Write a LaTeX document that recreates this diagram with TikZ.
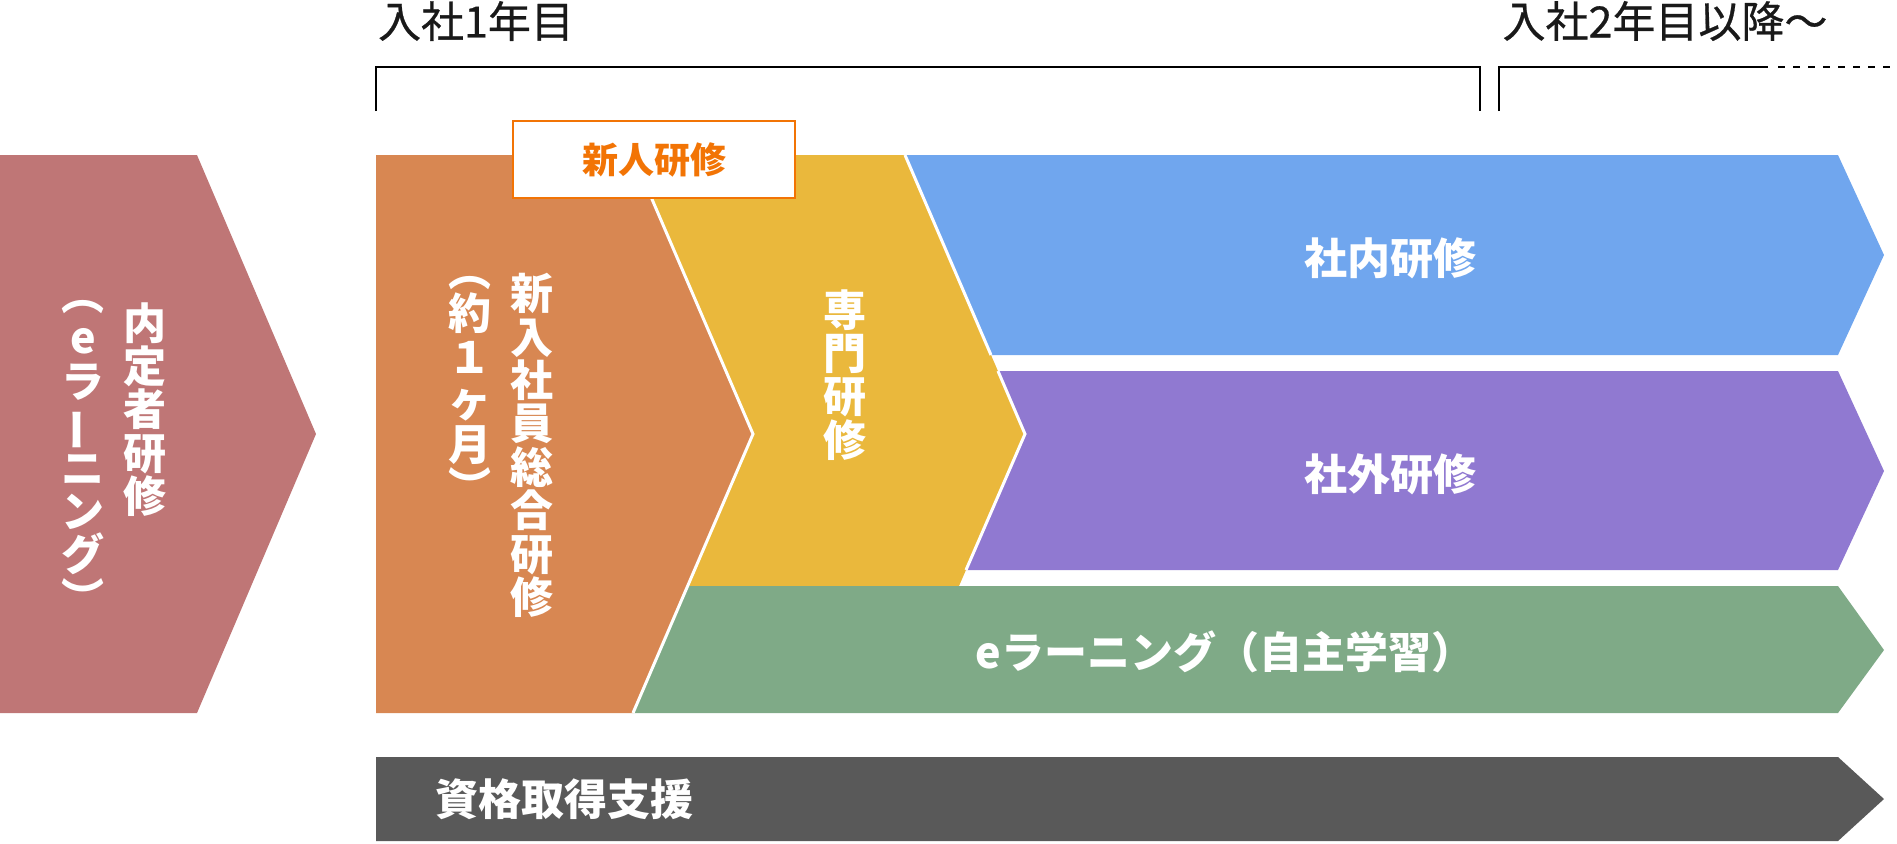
\documentclass[tikz,border=0pt]{standalone}
\usepackage{fontspec}
\setmainfont{Noto Sans CJK JP}
\newfontfamily\jpmed{Noto Sans CJK JP}[FakeBold=0.6]
\usetikzlibrary{calc}
\definecolor{pinkcol}{HTML}{BF7676}
\definecolor{orgcol}{HTML}{D88752}
\definecolor{yelcol}{HTML}{EAB83C}
\definecolor{bluecol}{HTML}{70A6EE}
\definecolor{purcol}{HTML}{9079D1}
\definecolor{grncol}{HTML}{7FAA87}
\definecolor{grycol}{HTML}{595959}
\definecolor{boxcol}{HTML}{F27405}
\newcommand{\vbar}{\rotatebox[origin=c]{90}{ー}}
\newcommand{\vfnt}{\fontsize{21.5}{21.7}\selectfont\bfseries\lineskiplimit=-20pt\relax}
\tikzset{lbl/.style={text=white,inner sep=0pt,font=\fontsize{21.5}{26}\selectfont\bfseries}}
\tikzset{vcol/.style={text=white,inner sep=0pt,anchor=north,align=center,font=\vfnt}}
\tikzset{yearlbl/.style={inner sep=0pt,text=black!90,font=\fontsize{21.5}{26}\selectfont\jpmed}}
\tikzset{seam/.style={white,line width=1.5pt}}

\begin{document}
\begin{tikzpicture}[x=0.5pt,y=-0.5pt]
\useasboundingbox (0,0) rectangle (1897,843);

% periods
\node[yearlbl] (first) at (476,21) {入社1年目};
\node[yearlbl] (later) at (1665,21) {入社2年目以降〜};
\draw[line width=1pt] (376,111) -- (376,67) -- (1480,67) -- (1480,111);
\draw[line width=1pt] (1499,111) -- (1499,67) -- (1768,67);
\draw[line width=1pt,dash pattern=on 3.5pt off 4pt] (1778,67) -- (1897,67);

% chevrons
\fill[pinkcol] (0,155) -- (197,155) -- (316,434) -- (197,713) -- (0,713) -- cycle;
\fill[yelcol] (600,155) -- (905,155) -- (1025,434) -- (959,586) -- (600,586) -- cycle;
\fill[grncol] (688,586) -- (1838,586) -- (1884,650) -- (1838,713) -- (633,713) -- cycle;
\fill[bluecol] (905,155) -- (1838,155) -- (1884,255) -- (1838,355) -- (991,355) -- cycle;
\draw[seam] (905,155) -- (991,355);
\fill[purcol] (998,371) -- (1838,371) -- (1884,471) -- (1838,570) -- (966,570) -- (1025,434) -- cycle;
\draw[seam] (998,371) -- (1025,434) -- (966,570);
\fill[orgcol] (376,155) -- (633,155) -- (753,434) -- (633,713) -- (376,713) -- cycle;
\draw[seam] (633,155) -- (753,434) -- (633,713);
\fill[grycol] (376,757) -- (1838,757) -- (1884,799) -- (1838,841) -- (376,841) -- cycle;

\node[draw=boxcol,line width=1pt,fill=white,minimum width=141pt,minimum height=38.5pt,
      text=boxcol,font=\fontsize{18}{22}\selectfont\bfseries] (newhire) at (654,159.5) {新人研修};

% labels
\node[vcol] (naitei) at (145,302) {内\\定\\者\\研\\修};
\node[vcol] (naiteie) at (83,300) {︵\\e\\ラ\\\vbar\\ニ\\ン\\グ\\︶};
\node[vcol] (sogo) at (532,273) {新\\入\\社\\員\\総\\合\\研\\修};
\node[vcol] (sogoterm) at (470,276) {︵\\約\\１\\ヶ\\月\\︶};
\node[vcol] (senmon) at (845,289) {専\\門\\研\\修};
\node[lbl] (shanai) at (1390,258) {社内研修};
\node[lbl] (shagai) at (1390,474) {社外研修};
\node[lbl] (elearn) at (1225,652) {eラーニング（自主学習）};
\node[lbl,anchor=west] (shikaku) at (435,799) {資格取得支援};
\end{tikzpicture}
\end{document}
